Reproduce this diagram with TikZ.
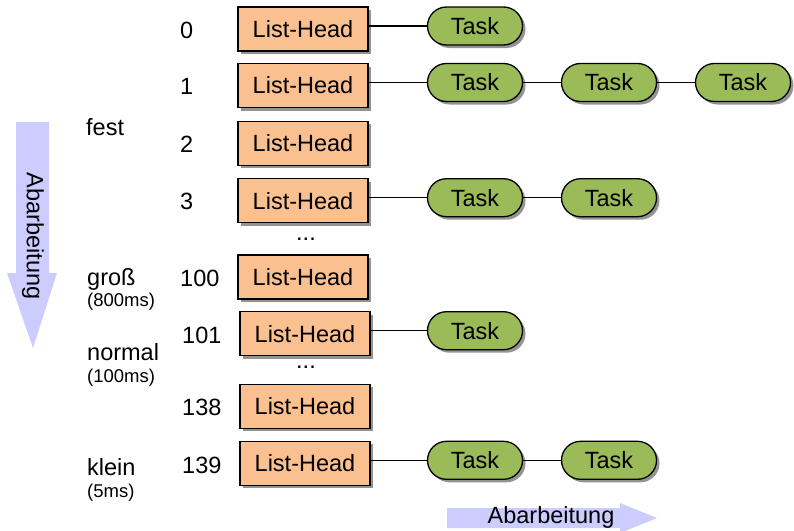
\documentclass[tikz,border=0pt]{standalone}
\usepackage{fontspec}
\setmainfont{Liberation Sans}
\usetikzlibrary{shadows}
\definecolor{headfill}{HTML}{FAC090}
\definecolor{taskfill}{HTML}{9BBB59}
\definecolor{flowfill}{HTML}{CCCCFF}
\begin{document}
\begin{tikzpicture}[x=1pt,y=-1pt,
  txt/.style={font=\fontsize{23.5}{28}\selectfont,inner sep=0pt},
  small/.style={font=\fontsize{18.5}{22}\selectfont,inner sep=0pt},
  head/.style={draw,line width=1.3pt,fill=headfill,minimum width=130pt,minimum height=44pt,inner sep=0pt,
    font=\fontsize{23.5}{28}\selectfont,drop shadow={shadow xshift=3pt,shadow yshift=-3pt,opacity=0.85,fill=black!50}},
  task/.style={draw,line width=1.3pt,fill=taskfill,rounded corners=19pt,minimum width=95pt,minimum height=38pt,inner sep=0pt,
    font=\fontsize{23.5}{28}\selectfont,drop shadow={shadow xshift=3pt,shadow yshift=-3pt,opacity=0.85,fill=black!50}},
  link/.style={line width=1.3pt}]
\useasboundingbox (0,0) rectangle (794,530);
\clip (0,0) rectangle (794,530);
% arrows
\fill[flowfill] (16,122) -- (49,122) -- (49,273) -- (57,273) -- (33,348) -- (7,273) -- (16,273) -- cycle;
\node[txt,rotate=-90] (flow_v) at (33,236) {Abarbeitung};
\fill[flowfill] (447,508) -- (620,508) -- (620,503) -- (657,518) -- (620,533) -- (620,528) -- (447,528) -- cycle;
\node[txt] (flow_h) at (551,517) {Abarbeitung};
% groups
\node[txt,anchor=base west] (g_fest) at (86,135) {fest};
\node[txt,anchor=base west] (g_gross) at (87,285) {groß};
\node[small,anchor=base west] (g_gross_t) at (87,306) {(800ms)};
\node[txt,anchor=base west] (g_normal) at (87,360) {normal};
\node[small,anchor=base west] (g_normal_t) at (87,382) {(100ms)};
\node[txt,anchor=base west] (g_klein) at (87,475) {klein};
\node[small,anchor=base west] (g_klein_t) at (87,497) {(5ms)};
% list heads
\node[txt,anchor=base west] (n_0) at (180,38) {0};
\node[head] (h_0) at (303,29) {List-Head};
\node[txt,anchor=base west] (n_1) at (180,94) {1};
\node[head] (h_1) at (303,85.5) {List-Head};
\node[txt,anchor=base west] (n_2) at (180,152) {2};
\node[head] (h_2) at (303,143.3) {List-Head};
\node[txt,anchor=base west] (n_3) at (180,209) {3};
\node[head] (h_3) at (303,200.7) {List-Head};
\node[txt,anchor=base] (d_1) at (306,240) {...};
\node[txt,anchor=base west] (n_100) at (180,286) {100};
\node[head] (h_100) at (303,277) {List-Head};
\node[txt,anchor=base west] (n_101) at (182,343) {101};
\node[head] (h_101) at (305,333.7) {List-Head};
\node[txt,anchor=base] (d_2) at (306,368) {...};
\node[txt,anchor=base west] (n_138) at (182,415) {138};
\node[head] (h_138) at (305,406.3) {List-Head};
\node[txt,anchor=base west] (n_139) at (182,473) {139};
\node[head] (h_139) at (305,463.3) {List-Head};
% tasks
\node[task] (t_0_1) at (475,26) {Task};
\draw[link] (h_0.east |- t_0_1.west) -- (t_0_1.west);
\node[task] (t_1_1) at (475,82.5) {Task};
\node[task] (t_1_2) at (609,82.5) {Task};
\node[task] (t_1_3) at (743,82.5) {Task};
\draw[link] (h_1.east |- t_1_1.west) -- (t_1_1.west);
\draw[link] (t_1_1) -- (t_1_2);
\draw[link] (t_1_2) -- (t_1_3);
\node[task] (t_3_1) at (475,197.7) {Task};
\node[task] (t_3_2) at (609,197.7) {Task};
\draw[link] (h_3.east |- t_3_1.west) -- (t_3_1.west);
\draw[link] (t_3_1) -- (t_3_2);
\node[task] (t_101_1) at (475,330.7) {Task};
\draw[link] (h_101.east |- t_101_1.west) -- (t_101_1.west);
\node[task] (t_139_1) at (475,460.3) {Task};
\node[task] (t_139_2) at (609,460.3) {Task};
\draw[link] (h_139.east |- t_139_1.west) -- (t_139_1.west);
\draw[link] (t_139_1) -- (t_139_2);
\end{tikzpicture}
\end{document}
